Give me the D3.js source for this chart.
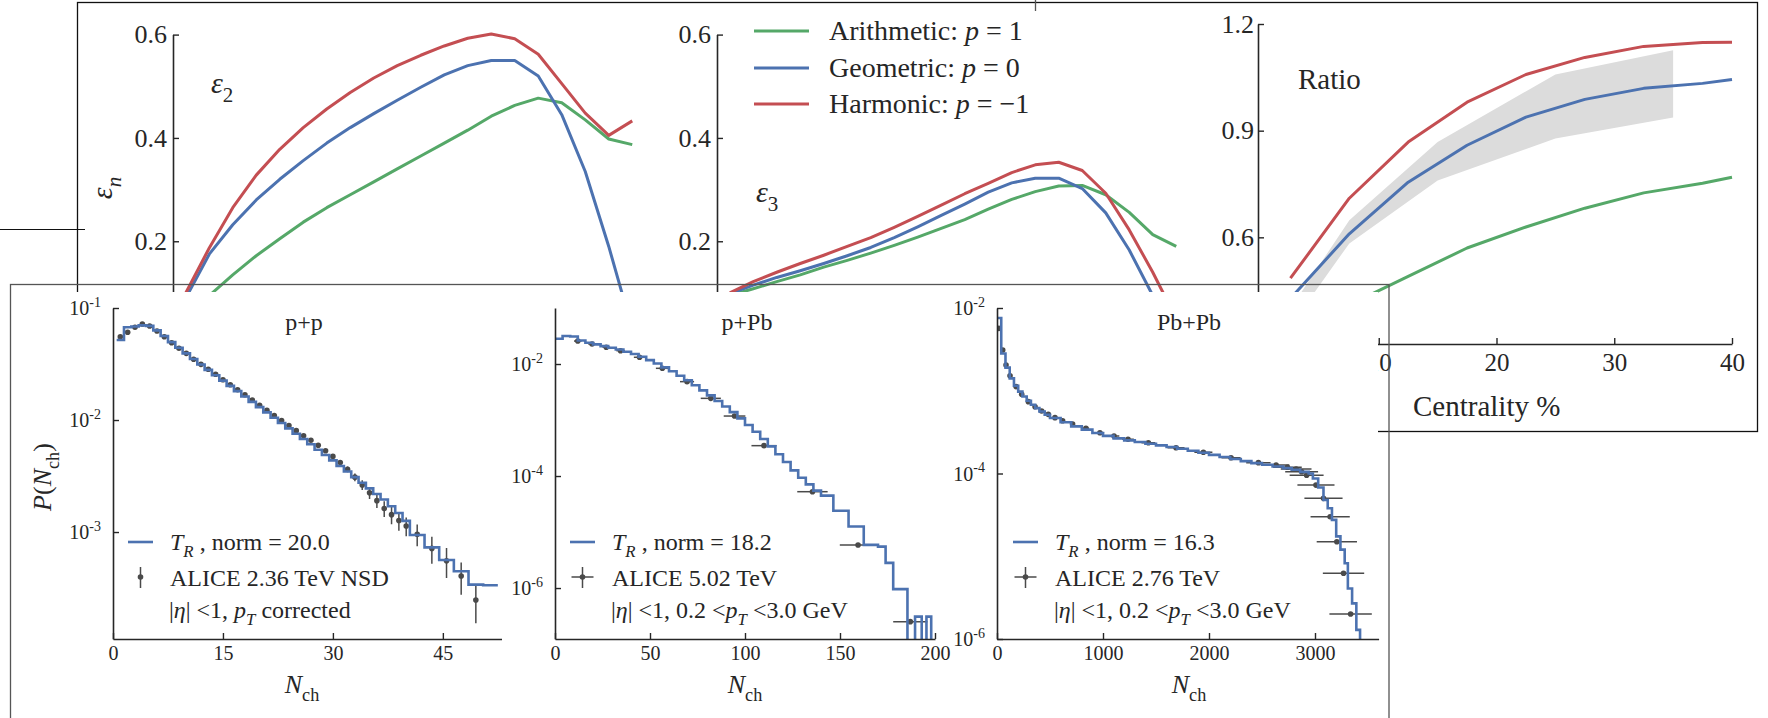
<!DOCTYPE html>
<html><head><meta charset="utf-8">
<script src="https://cdn.jsdelivr.net/npm/d3@7"></script>
<style>
body{margin:0;background:#fff}
svg{display:block}
svg text{font-family:"Liberation Serif","Tinos","Times New Roman","Times","DejaVu Serif","Noto Serif",serif;fill:#262626}
</style></head>
<body><svg id="c" width="1768" height="718" font-family="Liberation Serif, Tinos, Times New Roman, DejaVu Serif, Noto Serif, serif"></svg>
<script>
// ---------------- DATA: top figure (eccentricities) ----------------
const centEps = [2.5,7.5,12.5,17.5,22.5,27.5,32.5,37.5,42.5,47.5,52.5,57.5,62.5,67.5,72.5,77.5,82.5,87.5,92.5,97.5];
const eps2Arith = [0.050,0.095,0.135,0.172,0.205,0.237,0.265,0.290,0.315,0.340,0.365,0.390,0.415,0.442,0.463,0.477,0.468,0.435,0.398,0.387];
const eps2Geo   = [0.090,0.175,0.232,0.280,0.320,0.356,0.390,0.420,0.447,0.473,0.498,0.522,0.540,0.550,0.550,0.520,0.445,0.335,0.190,0.030];
const eps2Harm  = [0.100,0.187,0.265,0.328,0.378,0.420,0.456,0.488,0.516,0.540,0.560,0.578,0.593,0.601,0.592,0.562,0.505,0.448,0.405,0.433];
const eps3Arith = [0.095,0.108,0.122,0.135,0.150,0.163,0.177,0.192,0.208,0.225,0.242,0.262,0.281,0.296,0.307,0.308,0.290,0.256,0.213,0.190];
const eps3Geo   = [0.098,0.115,0.130,0.143,0.157,0.172,0.188,0.207,0.228,0.250,0.272,0.295,0.313,0.322,0.322,0.302,0.255,0.183,0.095,0.000];
const eps3Harm  = [0.100,0.122,0.140,0.157,0.173,0.190,0.207,0.227,0.248,0.270,0.292,0.312,0.333,0.348,0.353,0.337,0.293,0.222,0.140,0.050];
const epsTicks = [0.2,0.4,0.6];

const ratioCent  = [2.5,7.5,12.5,17.5,22.5,27.5,32.5,37.5,40];
const ratioArith = [0.340,0.410,0.490,0.570,0.629,0.682,0.725,0.752,0.769];
const ratioGeo   = [0.428,0.610,0.755,0.859,0.938,0.988,1.019,1.033,1.044];
const ratioHarm  = [0.485,0.710,0.868,0.980,1.058,1.106,1.137,1.148,1.149];
const bandCent = [2.5,7.5,15,25,35];
const bandLow  = [0.350,0.583,0.760,0.878,0.937];
const bandHigh = [0.400,0.648,0.868,1.058,1.126];
const ratioYTicks = [0.6,0.9,1.2];
const ratioXTicks = [10,20,30,40];

const seriesNames = ["Arithmetic", "Geometric", "Harmonic"];
const seriesP = ["1", "0", "\u22121"];
const seriesColors = ["#55a868", "#4c72b0", "#c44e52"];

// ---------------- DATA: bottom figure (multiplicity) ----------------
const ppDataN = [1,2,3,4,5,6,7,8,9,10,11,12,13,14,15,16,17,18,19,20,21,22,23,24,25,26,27,28,29,30,31,32,33,34,35,36,37,38,39,40,41.5,43.5,45.5,47.5,49.5];
const ppDataLog10 = [-1.256,-1.217,-1.172,-1.143,-1.161,-1.205,-1.256,-1.31,-1.36,-1.405,-1.458,-1.503,-1.547,-1.592,-1.64,-1.685,-1.73,-1.775,-1.822,-1.868,-1.913,-1.96,-2.005,-2.05,-2.095,-2.14,-2.18,-2.225,-2.275,-2.325,-2.38,-2.44,-2.51,-2.58,-2.65,-2.72,-2.79,-2.845,-2.897,-2.946,-3.02,-3.146,-3.256,-3.393,-3.607];
const ppDataRelErr = [0.02,0.02,0.02,0.02,0.02,0.02,0.02,0.02,0.02,0.02,0.02,0.02,0.02,0.02,0.02,0.02,0.02,0.02,0.02,0.02,0.02,0.02,0.02,0.03,0.03,0.03,0.03,0.03,0.04,0.04,0.05,0.06,0.08,0.10,0.12,0.14,0.16,0.18,0.19,0.19,0.22,0.27,0.30,0.32,0.38];
const ppModelEdges = [0.5,1.5,2.5,3.5,4.5,5.5,6.5,7.5,8.5,9.5,10.5,11.5,12.5,13.5,14.5,15.5,16.5,17.5,18.5,19.5,20.5,21.5,22.5,23.5,24.5,25.5,26.5,27.5,28.5,29.5,30.5,31.5,32.5,33.5,34.5,35.5,36.5,37.5,38.5,39.5,40.5,42.5,44.5,46.5,48.5,50.5,52.5];
const ppModelLog10 = [-1.286,-1.172,-1.165,-1.155,-1.16,-1.2,-1.25,-1.305,-1.355,-1.405,-1.455,-1.505,-1.552,-1.6,-1.648,-1.695,-1.742,-1.79,-1.838,-1.885,-1.932,-1.98,-2.027,-2.075,-2.122,-2.17,-2.217,-2.265,-2.313,-2.36,-2.41,-2.46,-2.51,-2.56,-2.61,-2.66,-2.71,-2.77,-2.83,-2.90,-3.027,-3.137,-3.25,-3.35,-3.47,-3.475];
const ppXTicks = [0,15,30,45];
const ppYTicks = [-1,-2,-3];

const pPbDataN = [12,19.5,27,34.5,44.5,56.5,69.5,82,94.5,110,135.5,159.5,187];
const pPbDataLog10 = [-1.59,-1.643,-1.70,-1.762,-1.88,-2.077,-2.315,-2.613,-2.929,-3.458,-4.28,-5.232,-6.60];
const pPbDataXErr = [2,2,2,2.2,3,3.4,3.7,5.3,5.7,6.6,8,9.6,9];
const pPbModelEdges = [0,4,8,12,16,20,24,28,32,36,40,44,48,52,56,60,64,68,72,76,80,84,88,92,96,100,104,108,112,116,120,124,128,132,136,140,146.5,154.5,162.5,170,174,178,185.5,189.5,193,195.5,198,200];
const pPbModelLog10 = [-1.55,-1.50,-1.51,-1.58,-1.62,-1.65,-1.68,-1.71,-1.74,-1.78,-1.82,-1.87,-1.93,-1.99,-2.06,-2.13,-2.21,-2.29,-2.38,-2.47,-2.56,-2.66,-2.76,-2.86,-2.97,-3.09,-3.21,-3.34,-3.47,-3.61,-3.75,-3.90,-4.03,-4.15,-4.26,-4.35,-4.62,-4.90,-5.23,-5.26,-5.55,-6.02,null,-6.51,null,-6.51,null];
const pPbXTicks = [0,50,100,150,200];
const pPbYTicks = [-2,-4,-6];

const PbDataN = [16,54,85,123,180,233,296,359,421,484,547,619,713,839,971,1104,1236,1428,1689,1947,2208,2466,2633,2740,2822,2874,2921,3009,3080,3143,3206,3269,3336];
const PbDataLog10 = [-2.246,-2.508,-2.689,-2.82,-2.95,-3.043,-3.132,-3.193,-3.245,-3.285,-3.325,-3.362,-3.402,-3.454,-3.507,-3.547,-3.587,-3.628,-3.688,-3.744,-3.809,-3.869,-3.897,-3.925,-3.946,-3.978,-4.02,-4.14,-4.30,-4.522,-4.824,-5.206,-5.698];
const PbDataXErr = [0,0,0,0,0,0,0,0,0,0,0,0,20,30,40,50,55,65,80,85,90,115,125,135,145,155,160,175,180,185,190,195,200];
const PbModelEdges = [0,40,80,120,160,200,240,280,320,360,400,450,500,600,700,800,900,1000,1100,1200,1300,1400,1500,1600,1700,1800,1900,2000,2100,2200,2300,2400,2500,2600,2700,2780,2860,2940,2980,3030,3080,3120,3160,3200,3240,3280,3310,3350,3390,3425,3600];
const PbModelLog10 = [-2.12,-2.55,-2.72,-2.85,-2.94,-3.01,-3.07,-3.12,-3.17,-3.21,-3.25,-3.29,-3.33,-3.38,-3.43,-3.47,-3.51,-3.545,-3.575,-3.60,-3.62,-3.64,-3.66,-3.68,-3.70,-3.725,-3.75,-3.775,-3.80,-3.825,-3.85,-3.875,-3.895,-3.915,-3.935,-3.955,-3.98,-4.00,-4.06,-4.17,-4.32,-4.42,-4.56,-4.76,-4.92,-5.085,-5.39,-5.57,-5.89,null];
const PbXTicks = [0,1000,2000,3000];
const PbYTicks = [-2,-4,-6];

// ---------------- helpers ----------------
const FONT = "Liberation Serif, Tinos, Times New Roman, DejaVu Serif, Noto Serif, serif";
const svg = d3.select("#c");
svg.append("rect").attr("width",1768).attr("height",718).attr("fill","#fff");
const AX = "#262626";

function rich(g, x, y, parts, size, anchor) {
  const t = g.append("text").attr("x", x).attr("y", y).attr("font-size", size)
    .attr("font-family", FONT).attr("text-anchor", anchor || "start");
  let shift = 0;
  parts.forEach(p => {
    const ts = t.append("tspan").text(p.t);
    const target = p.sub ? size * 0.3 : (p.sup ? -size * 0.42 : 0);
    if (target !== shift) { ts.attr("dy", target - shift); shift = target; }
    if (p.i) ts.attr("font-style", "italic");
    if (p.sub || p.sup) ts.attr("font-size", size * 0.7);
  });
  return t;
}
function styleAxis(g, size) {
  g.attr("font-family", FONT).attr("font-size", null);
  g.selectAll("path.domain").attr("stroke", AX).attr("stroke-width", 1.6);
  g.selectAll(".tick line").attr("stroke", AX).attr("stroke-width", 1.4);
  g.selectAll(".tick text").attr("fill", AX).attr("font-size", size).attr("font-family", FONT);
}

// ================= TOP FIGURE =================
const gTop = svg.append("g");
gTop.append("rect").attr("x", 77.5).attr("y", 2.5).attr("width", 1680).attr("height", 429)
  .attr("fill", "none").attr("stroke", "#111").attr("stroke-width", 1.3);
gTop.append("line").attr("x1", 0).attr("x2", 85).attr("y1", 229.5).attr("y2", 229.5)
  .attr("stroke", "#111").attr("stroke-width", 1.2);
gTop.append("line").attr("x1", 1035.5).attr("x2", 1035.5).attr("y1", 0).attr("y2", 11)
  .attr("stroke", "#555").attr("stroke-width", 1.3);

const epsY = d3.scaleLinear().domain([0, 0.6]).range([344.6, 34.6]);
const eps2X = d3.scaleLinear().domain([0, 100]).range([174, 644]);
const eps3X = d3.scaleLinear().domain([0, 100]).range([718, 1188]);

function epsPanel(xs, axisX, arrs) {
  const ax = gTop.append("g").attr("transform", `translate(${axisX},0)`)
    .call(d3.axisLeft(epsY).tickValues(epsTicks).tickSize(-6).tickSizeOuter(0).tickPadding(6).tickFormat(d3.format(".1f")));
  styleAxis(ax, 26);
  const line = d3.line().x((d, i) => xs(centEps[i])).y(d => epsY(d));
  arrs.forEach((a, k) => {
    gTop.append("path").attr("d", line(a)).attr("fill", "none")
      .attr("stroke", seriesColors[k]).attr("stroke-width", 3).attr("stroke-linejoin", "round");
  });
}
epsPanel(eps2X, 173, [eps2Arith, eps2Geo, eps2Harm]);
epsPanel(eps3X, 717, [eps3Arith, eps3Geo, eps3Harm]);

rich(gTop, 211, 93, [{t: "\u03b5", i: true}, {t: "2", sub: true}], 30);
rich(gTop, 756, 202, [{t: "\u03b5", i: true}, {t: "3", sub: true}], 30);
rich(gTop, 0, 0, [{t: "\u03b5", i: true}, {t: "n", i: true, sub: true}], 30, "middle")
  .attr("transform", "translate(112,188) rotate(-90)");

// legend
seriesNames.forEach((nm, k) => {
  const yy = [31, 68, 104][k];
  gTop.append("line").attr("x1", 754).attr("x2", 809).attr("y1", yy).attr("y2", yy)
    .attr("stroke", seriesColors[k]).attr("stroke-width", 3.2);
  rich(gTop, 829, yy + 9, [{t: nm + ": "}, {t: "p", i: true}, {t: " = " + seriesP[k]}], 28);
});

// ratio panel
const ratioX = d3.scaleLinear().domain([0, 40]).range([1261, 1732]);
const ratioY = d3.scaleLinear().domain([0.3, 1.2]).range([344, 24]);
const band = d3.area().x((d, i) => ratioX(bandCent[i])).y0((d, i) => ratioY(bandLow[i])).y1(d => ratioY(d));
gTop.append("path").attr("d", band(bandHigh)).attr("fill", "#dcdcdc");
const rline = d3.line().x((d, i) => ratioX(ratioCent[i])).y(d => ratioY(d));
[ratioArith, ratioGeo, ratioHarm].forEach((a, k) => {
  gTop.append("path").attr("d", rline(a)).attr("fill", "none")
    .attr("stroke", seriesColors[k]).attr("stroke-width", 3).attr("stroke-linejoin", "round");
});
const ray = gTop.append("g").attr("transform", "translate(1258,0)")
  .call(d3.axisLeft(ratioY).tickValues(ratioYTicks).tickSize(-6).tickSizeOuter(0).tickPadding(4).tickFormat(d3.format(".1f")));
styleAxis(ray, 26);
const rax = gTop.append("g").attr("transform", "translate(0,344)")
  .call(d3.axisBottom(ratioX).tickValues(ratioXTicks).tickSize(-6).tickSizeOuter(0).tickPadding(9));
styleAxis(rax, 25);
gTop.append("text").attr("x", 1298).attr("y", 89).attr("font-size", 29).attr("font-family", FONT).text("Ratio");
gTop.append("text").attr("x", 1413).attr("y", 416).attr("font-size", 29).attr("font-family", FONT).text("Centrality %");

// cover of the overlapping figure
svg.append("rect").attr("x", 0).attr("y", 292).attr("width", 1378).attr("height", 426).attr("fill", "#fff");

// ================= BOTTOM FIGURE =================
const gB = svg.append("g");
gB.append("rect").attr("x", 10.5).attr("y", 284.5).attr("width", 1378.5).attr("height", 460)
  .attr("fill", "none").attr("stroke", "#555").attr("stroke-width", 1.3);

const BOT = 639, TOPY = 308;
let clipId = 0;
function logPanel(cfg) {
  const g = gB.append("g");
  const x = d3.scaleLinear().domain(cfg.xDomain).range([cfg.x0, cfg.x1]);
  const y = d3.scaleLog().domain(cfg.yDomain).range([BOT, TOPY]);
  const id = "clip" + (clipId++);
  g.append("clipPath").attr("id", id).append("rect")
    .attr("x", cfg.x0).attr("y", TOPY - 30).attr("width", cfg.x1 - cfg.x0 + 2).attr("height", BOT - TOPY + 30);
  const inner = g.append("g").attr("clip-path", `url(#${id})`);
  const col = "#4a4a4a";
  cfg.dN.forEach((n, i) => {
    const p = Math.pow(10, cfg.dLog[i]);
    const cx = x(n), cy = y(p);
    const re = cfg.dRel ? cfg.dRel[i] : 0;
    if (re > 0) inner.append("line").attr("x1", cx).attr("x2", cx).attr("y1", y(p * (1 + re))).attr("y2", y(Math.max(p * (1 - re), 1e-12)))
      .attr("stroke", col).attr("stroke-width", 1.5);
    const xe = cfg.dXErr ? cfg.dXErr[i] : 0;
    if (xe > 0) inner.append("line").attr("x1", x(n - xe)).attr("x2", x(n + xe)).attr("y1", cy).attr("y2", cy)
      .attr("stroke", col).attr("stroke-width", 1.5);
    inner.append("circle").attr("cx", cx).attr("cy", cy).attr("r", 2.8).attr("fill", col);
  });
  const pts = cfg.mLog.map((v, i) => [cfg.mEdges[i], v == null ? 1e-12 : Math.pow(10, v)]);
  const last = cfg.mLog[cfg.mLog.length - 1];
  pts.push([cfg.mEdges[cfg.mEdges.length - 1], last == null ? 1e-12 : Math.pow(10, last)]);
  const sl = d3.line().curve(d3.curveStepAfter).x(d => x(d[0])).y(d => Math.min(y(d[1]), BOT + 10));
  inner.append("path").attr("d", sl(pts)).attr("fill", "none").attr("stroke", "#4c72b0").attr("stroke-width", 2.6);
  const xa = g.append("g").attr("transform", `translate(0,${BOT})`)
    .call(d3.axisBottom(x).tickValues(cfg.xTicks).tickSize(-6).tickSizeOuter(0).tickPadding(7).tickFormat(d3.format("d")));
  styleAxis(xa, 20);
  const ya = g.append("g").attr("transform", `translate(${cfg.x0},0)`)
    .call(d3.axisLeft(y).tickValues(cfg.yTicks.map(e => Math.pow(10, e))).tickSize(-6).tickSizeOuter(0).tickFormat(""));
  styleAxis(ya, 20);
  cfg.yTicks.forEach(e => {
    rich(g, cfg.x0 - 12, y(Math.pow(10, e)) + 7, [{t: "10"}, {t: "-" + (-e), sup: true}], 20, "end");
  });
  g.append("text").attr("x", cfg.titleX).attr("y", 330).attr("font-size", 24).attr("font-family", FONT)
    .attr("text-anchor", "middle").text(cfg.title);
  rich(g, cfg.xlabX, 693, [{t: "N", i: true}, {t: "ch", sub: true}], 26, "middle");
  const lx = cfg.legX;
  g.append("line").attr("x1", lx).attr("x2", lx + 25).attr("y1", 542).attr("y2", 542).attr("stroke", "#4c72b0").attr("stroke-width", 2.6);
  const mx = lx + 12.5;
  g.append("line").attr("x1", mx).attr("x2", mx).attr("y1", 567).attr("y2", 588).attr("stroke", col).attr("stroke-width", 1.5);
  if (cfg.legCross) g.append("line").attr("x1", mx - 11).attr("x2", mx + 11).attr("y1", 577).attr("y2", 577).attr("stroke", col).attr("stroke-width", 1.5);
  g.append("circle").attr("cx", mx).attr("cy", 577).attr("r", 2.8).attr("fill", col);
  const tx = lx + 42;
  rich(g, tx, 550, [{t: "T", i: true}, {t: "R", i: true, sub: true}, {t: " ,  norm  =  " + cfg.norm}], 24);
  rich(g, tx, 586, [{t: cfg.alice}], 24);
  rich(g, tx - 1, 618, cfg.cut, 24);
  return {x, y};
}

const cutWide = [{t: "|"}, {t: "\u03b7", i: true}, {t: "| <1, 0.2 <"}, {t: "p", i: true}, {t: "T", i: true, sub: true}, {t: " <3.0 GeV"}];

logPanel({xDomain: [0, 53], x0: 113, x1: 501.5, yDomain: [Math.pow(10, -3.955), 0.1],
  dN: ppDataN, dLog: ppDataLog10, dRel: ppDataRelErr, mEdges: ppModelEdges, mLog: ppModelLog10,
  xTicks: ppXTicks, yTicks: ppYTicks, title: "p+p", titleX: 304, xlabX: 302, legX: 128, legCross: false,
  norm: "20.0", alice: "ALICE 2.36 TeV NSD",
  cut: [{t: "|"}, {t: "\u03b7", i: true}, {t: "| <1, "}, {t: "p", i: true}, {t: "T", i: true, sub: true}, {t: "  corrected"}]});

logPanel({xDomain: [0, 200], x0: 555, x1: 935, yDomain: [Math.pow(10, -6.91), 0.1],
  dN: pPbDataN, dLog: pPbDataLog10, dXErr: pPbDataXErr, mEdges: pPbModelEdges, mLog: pPbModelLog10,
  xTicks: pPbXTicks, yTicks: pPbYTicks, title: "p+Pb", titleX: 747, xlabX: 745, legX: 570, legCross: true,
  norm: "18.2", alice: "ALICE 5.02 TeV", cut: cutWide});

logPanel({xDomain: [0, 3600], x0: 997, x1: 1378.6, yDomain: [1e-6, 1e-2],
  dN: PbDataN, dLog: PbDataLog10, dXErr: PbDataXErr, mEdges: PbModelEdges, mLog: PbModelLog10,
  xTicks: PbXTicks, yTicks: PbYTicks, title: "Pb+Pb", titleX: 1189, xlabX: 1189, legX: 1013, legCross: true,
  norm: "16.3", alice: "ALICE 2.76 TeV", cut: cutWide});

rich(gB, 0, 0, [{t: "P", i: true}, {t: "("}, {t: "N", i: true}, {t: "ch", sub: true}, {t: ")"}], 26, "middle")
  .attr("transform", "translate(51,477) rotate(-90)");
</script></body></html>
